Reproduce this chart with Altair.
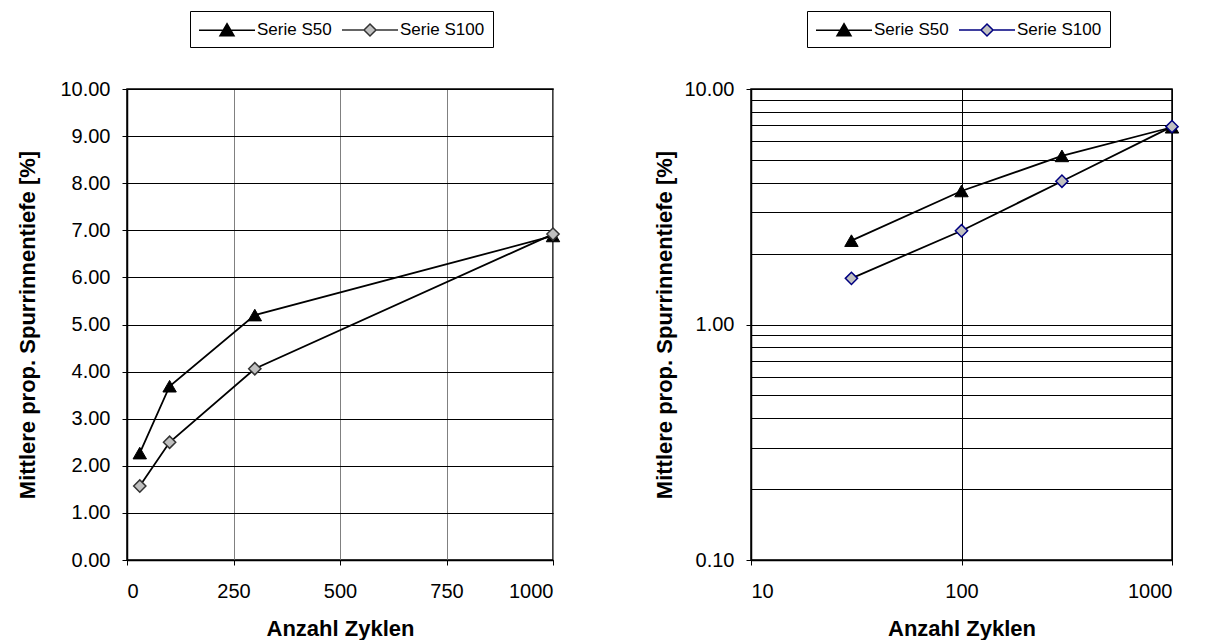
import altair as alt
import pandas as pd

# Measured rut depth (mean proportional, %) after a number of load cycles
cycles = [30, 100, 300, 1000]
s50_values = [2.27, 3.69, 5.20, 6.88]
s100_values = [1.57, 2.50, 4.06, 6.92]
series_names = ["Serie S50", "Serie S100"]

# Axis ticks
lin_x_ticks = [0, 250, 500, 750, 1000]
lin_y_ticks = [0, 1, 2, 3, 4, 5, 6, 7, 8, 9, 10]
log_x_ticks = [10, 100, 1000]
log_y_grid = [0.1, 0.2, 0.3, 0.4, 0.5, 0.6, 0.7, 0.8, 0.9,
              1, 2, 3, 4, 5, 6, 7, 8, 9, 10]

df = pd.DataFrame(
    {
        "zyklen": cycles * 2,
        "wert": s50_values + s100_values,
        "serie": [series_names[0]] * len(cycles) + [series_names[1]] * len(cycles),
    }
)

FONT = "Liberation Sans"
X_TITLE = "Anzahl Zyklen"
Y_TITLE = "Mittlere prop. Spurrinnentiefe [%]"

# Legend symbols: a short line with the marker in its middle.
# Path units are half the square root of the symbol size (10 px); the
# path starts at -1 so it stays inside the legend entry.
TRI_PATH = "M-1,0H4.6M1.8,-0.65L2.5,0.55L1.1,0.55Z"
DIA_PATH = "M-1,0H1.2M2.4,0H4.6M1.8,-0.6L2.4,0L1.8,0.6L1.2,0Z"


def axis_common(**kw):
    return alt.Axis(
        labelFont=FONT,
        labelFontSize=20,
        labelColor="black",
        titleFont=FONT,
        titleFontSize=22,
        titleFontWeight="bold",
        titleColor="black",
        tickColor="black",
        tickSize=5,
        domainColor="black",
        domainWidth=1.5,
        gridWidth=1,
        **kw,
    )


def build_panel(x_enc, y_enc, width, height, marker_stroke, legend_x, legend_y):
    base = alt.Chart(df)
    lines = base.mark_line(color="black", strokeWidth=1.8).encode(
        x=x_enc, y=y_enc, detail="serie:N"
    )
    tri = (
        base.transform_filter(alt.datum.serie == series_names[0])
        .mark_point(shape="triangle-up", filled=True, size=180, fill="black",
                    stroke="black", strokeWidth=1, opacity=1)
        .encode(x=x_enc, y=y_enc)
    )
    dia = (
        base.transform_filter(alt.datum.serie == series_names[1])
        .mark_point(shape="diamond", filled=True, size=150, fill="#c0c0c0",
                    stroke=marker_stroke, strokeWidth=1.5, opacity=1)
        .encode(x=x_enc, y=y_enc)
    )
    # invisible layer that only carries the legend
    legend_layer = base.mark_point(opacity=0, filled=True, size=1).encode(
        x=x_enc,
        y=y_enc,
        shape=alt.Shape(
            "serie:N",
            scale=alt.Scale(domain=series_names, range=[TRI_PATH, DIA_PATH]),
            legend=alt.Legend(
                title=None,
                orient="none",
                legendX=legend_x,
                legendY=legend_y,
                direction="horizontal",
                symbolSize=400,
                symbolStrokeWidth=1.5,
                symbolOpacity=1,
                labelFont=FONT,
                labelFontSize=17,
                labelColor="black",
                labelOffset=37,
                columnPadding=7,
                padding=8,
                strokeColor="black",
                fillColor="white",
            ),
        ),
        fill=alt.Fill(
            "serie:N",
            scale=alt.Scale(domain=series_names, range=["black", "#c0c0c0"]),
        ),
        stroke=alt.Stroke(
            "serie:N",
            scale=alt.Scale(domain=series_names, range=["black", marker_stroke]),
        ),
    )
    return alt.layer(lines, tri, dia, legend_layer).properties(
        width=width, height=height
    )


# Linear panel
x_lin = alt.X(
    "zyklen:Q",
    scale=alt.Scale(domain=[0, 1000], nice=False, zero=False),
    axis=axis_common(values=lin_x_ticks, format="d", title=X_TITLE,
                     gridColor="#808080", labelPadding=16, titlePadding=17),
)
y_lin = alt.Y(
    "wert:Q",
    scale=alt.Scale(domain=[0, 10], nice=False),
    axis=axis_common(values=lin_y_ticks, format=".2f", title=Y_TITLE,
                     gridColor="black", labelPadding=12, titlePadding=20),
)

# Logarithmic panel
decade = "datum.value == 0.1 || datum.value == 1 || datum.value == 10"
x_log = alt.X(
    "zyklen:Q",
    scale=alt.Scale(type="log", domain=[10, 1000], nice=False),
    axis=axis_common(values=log_x_ticks, format="d", title=X_TITLE,
                     gridColor="black", labelPadding=16, titlePadding=17),
)
y_log = alt.Y(
    "wert:Q",
    scale=alt.Scale(type="log", domain=[0.1, 10], nice=False),
    axis=axis_common(
        values=log_y_grid,
        labelExpr=f"({decade}) ? format(datum.value, '.2f') : ''",
        tickOpacity={"condition": {"test": decade, "value": 1}, "value": 0},
        title=Y_TITLE,
        gridColor="black",
        labelPadding=12,
        titlePadding=7,
    ),
)

left = build_panel(x_lin, y_lin, 426, 471, "#333333", 63, -78)
right = build_panel(x_log, y_log, 421, 471, "#000080", 56, -78)

chart = (
    alt.hconcat(left, right, spacing=90)
    .resolve_scale(shape="independent", fill="independent", stroke="independent")
    .resolve_legend(shape="independent", fill="independent", stroke="independent")
    .configure(padding={"left": 16, "top": 9, "right": 5, "bottom": 0})
    .configure_view(stroke="black", strokeWidth=1.5)
    .properties(background="white")
)

chart.save("out.html", embed_options={"renderer": "svg", "actions": False})
